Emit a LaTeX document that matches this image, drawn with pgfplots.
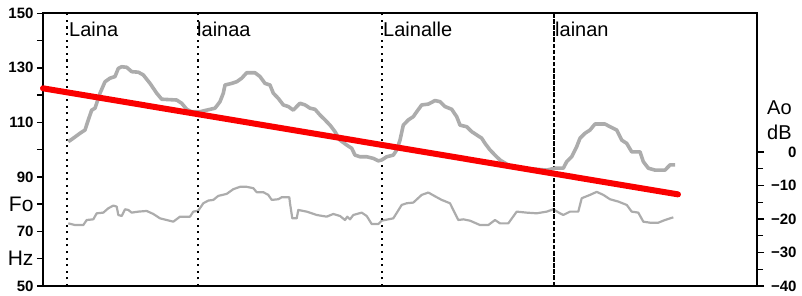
\documentclass[border=0pt]{standalone}
\usepackage{pgfplots}
\pgfplotsset{compat=1.18}
\usepackage{fontspec}
\setmainfont{Liberation Sans}
\definecolor{fgray}{RGB}{172,172,172}
\definecolor{pred}{RGB}{250,0,0}
\begin{document}
\begin{tikzpicture}
% ---- right axis: Ao dB (intensity) ----
\begin{axis}[
  scale only axis, width=714pt, height=272.7pt,
  xmin=43, xmax=757, ymin=-40, ymax=41.4,
  axis x line=none, axis y line*=right,
  ytick={-40,-30,-20,-10,0}, minor ytick={-35,-25,-15,-5},
  yticklabels={−40,−30,−20,−10,0},
  tick align=outside, major tick length=7pt, minor tick length=6pt,
  every tick/.style={black, line width=1.4pt},
  axis line style={line width=1.7pt},
  yticklabel style={font=\bfseries\fontsize{15}{15}\selectfont, anchor=east, xshift=36pt},
  clip=false,
]
\addplot[fgray, line width=2.2pt, line join=round] coordinates {
(68.3,-21.3)(75,-21.8)(83.3,-21.8)(86.7,-20.3)(93.3,-20.1)(96.7,-18.3)(103.3,-18.1)(108.3,-16.8)(113.3,-16.0)(116.7,-16.3)(118.3,-18.8)(121.7,-19.1)(125,-17.1)(128.3,-17.3)(131.7,-18.1)(138.3,-17.8)(146.7,-17.6)(153.3,-18.5)(160,-19.8)(166.7,-20.3)(173.3,-20.8)(180,-19.3)(190,-19.3)(193.3,-17.8)(198.3,-17.5)(203.3,-15.3)(208.3,-14.5)(213.3,-14.3)(218.3,-13.1)(226.7,-12.5)(233.3,-11.1)(240,-10.4)(246.7,-10.4)(253.3,-10.8)(256.7,-12.0)(263.3,-12.0)(268.3,-12.8)(271.7,-14.3)(278.3,-14.1)(281.7,-13.5)(289.3,-13.5)(290,-15.3)(292.3,-19.8)(296.7,-19.8)(298.3,-17.3)(306.7,-17.8)(316.7,-18.8)(326.7,-19.3)(333.3,-18.5)(340,-19.1)(345,-20.3)(347.3,-19.3)(350,-20.1)(353.3,-18.8)(361.7,-18.1)(366.7,-19.1)(371.7,-21.5)(378.3,-21.5)(381.7,-20.5)(393.3,-19.8)(401.7,-15.8)(406.7,-15.3)(413.3,-15.1)(421.7,-12.8)(428.3,-12.1)(436.7,-13.5)(441.7,-14.3)(450,-15.3)(453.3,-17.3)(458.3,-20.3)(463.3,-20.1)(470,-20.5)(480,-21.8)(488.3,-21.8)(495,-20.3)(500,-21.3)(508.3,-21.3)(516.7,-17.8)(526.7,-18.1)(536.7,-18.3)(546.7,-17.8)(553.3,-17.1)(560,-18.3)(563.3,-18.8)(570,-17.8)(578.3,-17.8)(581.7,-13.8)(590,-12.8)(596.7,-11.9)(603.3,-12.8)(610,-14.1)(618.3,-14.8)(626.7,-15.8)(631.7,-17.8)(638.3,-18.1)(643.3,-20.8)(650,-21.1)(658.3,-21.1)(665,-20.3)(673.3,-19.5)
};
\node[anchor=west, inner sep=0pt, font=\fontsize{20}{20}\selectfont] at (axis cs:757,13.1) [xshift=10pt] {Ao};
\node[anchor=west, inner sep=0pt, font=\fontsize{20}{20}\selectfont] at (axis cs:757,6.0) [xshift=10pt] {dB};
\end{axis}
% ---- left axis: Fo Hz ----
\begin{axis}[
  scale only axis, width=714pt, height=272.7pt,
  xmin=43, xmax=757, ymin=50, ymax=150,
  xtick=\empty, ytick pos=left,
  ytick={50,60,70,80,90,100,110,120,130,140,150},
  yticklabels={50,{\mdseries\fontsize{21}{21}\selectfont Hz},70,{\mdseries\fontsize{21}{21}\selectfont Fo},90,,110,,130,,150},
  tick align=outside, major tick length=6pt,
  every tick/.style={black, line width=1.4pt},
  axis line style={line width=1.7pt},
  yticklabel style={font=\bfseries\fontsize{15}{15}\selectfont},
  clip=false,
]
% word boundaries
\addplot[black, line width=2.1pt, dash pattern=on 2.1pt off 4.5pt] coordinates {(67,50)(67,150)};
\addplot[black, line width=2.1pt, dash pattern=on 2.1pt off 4.5pt] coordinates {(198,50)(198,150)};
\addplot[black, line width=2.1pt, dash pattern=on 2.1pt off 4.5pt] coordinates {(382,50)(382,150)};
\addplot[black, line width=2.2pt, dash pattern=on 4.5pt off 1.6pt] coordinates {(554,50)(554,150)};
% F0 contour
\addplot[fgray, line width=3.6pt, line join=round] coordinates {
(68.3,102.9)(73.3,104.2)(80,106.0)(85,107.2)(88.3,110.9)(91.7,114.5)(95,115.2)(100,120.7)(105,124.9)(110,126.2)(115,126.8)(118.3,129.8)(121.7,130.4)(126.7,130.2)(131.7,128.6)(138.3,128.4)(143.3,127.4)(150,124.3)(156.7,120.7)(161.7,118.5)(176.7,118.2)(181.7,117.0)(186.7,114.8)(191.7,113.9)(196.7,113.9)(200,113.9)(206.7,114.5)(215,115.2)(220,117.6)(223.3,120.7)(225,123.7)(231.7,124.3)(236.7,124.9)(241.7,126.2)(246.7,128.2)(255,128.2)(260,126.8)(265,124.3)(270,123.7)(273.3,120.7)(278.3,118.8)(283.3,116.4)(288.3,115.8)(293.3,114.5)(296.7,115.8)(300,117.0)(305,116.4)(310,115.2)(315,114.8)(320,112.7)(325,110.9)(330,109.0)(335,106.6)(340,103.5)(346.7,101.7)(351.7,100.5)(355,98.0)(360,97.4)(366.7,97.4)(373.3,96.8)(378.3,95.9)(381.7,96.2)(386.7,97.4)(393.3,98.0)(396.7,99.9)(400,103.5)(403.3,109.0)(408.3,110.9)(413.3,112.1)(416.7,113.9)(421.7,116.4)(428.3,116.7)(435,118.0)(440,117.6)(445,115.8)(451.7,114.8)(456.7,112.1)(460,109.0)(466.7,108.4)(471.7,106.6)(476.7,105.4)(481.7,104.2)(485,102.3)(490,99.9)(495,98.0)(500,96.2)(510,94.0)(520,93.2)(530,92.8)(536.7,92.8)(546.7,92.5)(555,93.2)(563.3,93.2)(566.7,95.6)(571.7,97.4)(576.7,101.1)(580,104.2)(585,106.0)(590,107.2)(595,109.4)(605,109.4)(610,108.4)(616.7,107.2)(621.7,103.5)(626.7,102.3)(631.7,99.2)(640,99.2)(643.3,95.6)(648.3,93.2)(655,92.5)(665,92.5)(670,94.4)(675,94.4)
};
% regression line
\addplot[pred, line width=6pt, line cap=round] coordinates {(43,122.5)(678,83.6)};
% word labels
\node[anchor=west, inner sep=0pt, font=\fontsize{20}{20}\selectfont] at (axis cs:69,144.2) {Laina};
\node[anchor=west, inner sep=0pt, font=\fontsize{20}{20}\selectfont] at (axis cs:197,144.2) {lainaa};
\node[anchor=west, inner sep=0pt, font=\fontsize{20}{20}\selectfont] at (axis cs:383,144.2) {Lainalle};
\node[anchor=west, inner sep=0pt, font=\fontsize{20}{20}\selectfont] at (axis cs:555,144.2) {lainan};
\end{axis}
\path (-43pt,-9pt) rectangle (759pt,286pt);
\end{tikzpicture}
\end{document}
